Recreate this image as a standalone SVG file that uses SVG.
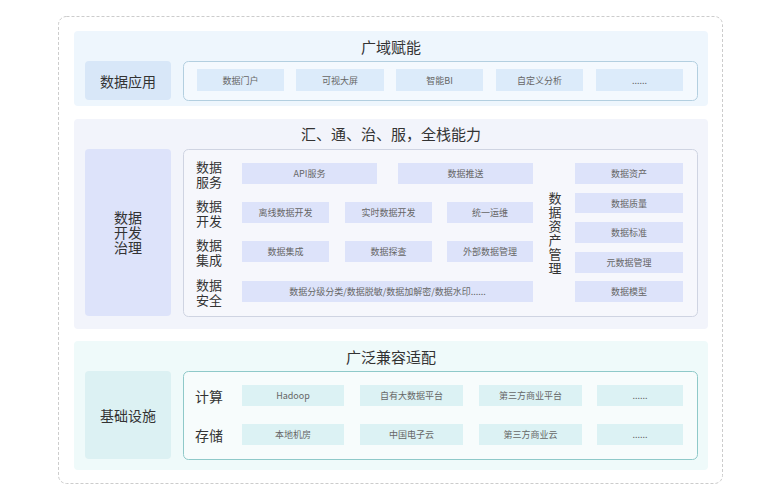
<svg xmlns="http://www.w3.org/2000/svg" width="782" height="500" viewBox="0 0 782 500">
<style>
text{font-family:"Noto Sans CJK SC","Noto Sans",sans-serif;text-anchor:middle;dominant-baseline:central}
.t{font-size:15px;fill:#333}
.h{font-size:14px;fill:#333}
.v{font-size:13px;fill:#333}
.s{font-size:9px;fill:#666}
.b1{fill:#dcebfa}.b2{fill:#dde3fa}.b3{fill:#dcf2f4}
</style>
<rect x="58.5" y="16.5" width="664" height="467" rx="8" fill="#fff" stroke="#ccc" stroke-dasharray="3,2"/>
<g id="sec1">
<rect x="74" y="31" width="634" height="75" rx="4" fill="#eef6fd"/>
<text class="t" x="391" y="46">广域赋能</text>
<rect x="85" y="61" width="86" height="39" rx="4" fill="#d8e7f8"/>
<text class="h" x="128" y="80.5">数据应用</text>
<rect x="183.5" y="61.5" width="514" height="39" rx="5" fill="#f4f9fe" stroke="#b3cfe0"/>
<rect class="b1" x="197" y="69" width="87" height="22"/><text class="s" x="240.5" y="80">数据门户</text>
<rect class="b1" x="296" y="69" width="88" height="22"/><text class="s" x="340" y="80">可视大屏</text>
<rect class="b1" x="396" y="69" width="87" height="22"/><text class="s" x="439.5" y="80">智能BI</text>
<rect class="b1" x="496" y="69" width="87" height="22"/><text class="s" x="539.5" y="80">自定义分析</text>
<rect class="b1" x="596" y="69" width="87" height="22"/><text class="s" x="639.5" y="80">......</text>
</g>
<g id="sec2">
<rect x="74" y="119" width="634" height="210" rx="4" fill="#f2f4fb"/>
<text class="t" x="391" y="133">汇、通、治、服，全栈能力</text>
<rect x="85" y="149" width="86" height="167" rx="4" fill="#dde3fa"/>
<text class="h" x="128" y="217">数据</text><text class="h" x="128" y="232">开发</text><text class="h" x="128" y="247">治理</text>
<rect x="183.5" y="149.5" width="514" height="167" rx="5" fill="#f6f7fc" stroke="#cfd4e2"/>
<text class="v" x="209" y="166">数据</text><text class="v" x="209" y="181">服务</text>
<text class="v" x="209" y="205">数据</text><text class="v" x="209" y="220">开发</text>
<text class="v" x="209" y="244">数据</text><text class="v" x="209" y="259">集成</text>
<text class="v" x="209" y="284">数据</text><text class="v" x="209" y="299">安全</text>
<rect class="b2" x="242" y="163" width="135" height="21"/><text class="s" x="309.5" y="173.5">API服务</text>
<rect class="b2" x="398" y="163" width="135" height="21"/><text class="s" x="465.5" y="173.5">数据推送</text>
<rect class="b2" x="242" y="202" width="87" height="21"/><text class="s" x="285.5" y="212.5">离线数据开发</text>
<rect class="b2" x="345" y="202" width="87" height="21"/><text class="s" x="388.5" y="212.5">实时数据开发</text>
<rect class="b2" x="447" y="202" width="86" height="21"/><text class="s" x="490" y="212.5">统一运维</text>
<rect class="b2" x="242" y="241" width="87" height="21"/><text class="s" x="285.5" y="251.5">数据集成</text>
<rect class="b2" x="345" y="241" width="87" height="21"/><text class="s" x="388.5" y="251.5">数据探查</text>
<rect class="b2" x="447" y="241" width="86" height="21"/><text class="s" x="490" y="251.5">外部数据管理</text>
<rect class="b2" x="242" y="281" width="291" height="21"/><text class="s" x="387.5" y="291.5">数据分级分类/数据脱敏/数据加解密/数据水印......</text>
<text class="v" x="555" y="234" writing-mode="vertical-rl" letter-spacing="1" style="dominant-baseline:auto">数据资产管理</text>
<rect class="b2" x="575" y="163" width="108" height="21"/><text class="s" x="629" y="173.5">数据资产</text>
<rect class="b2" x="575" y="193" width="108" height="20"/><text class="s" x="629" y="203">数据质量</text>
<rect class="b2" x="575" y="222" width="108" height="21"/><text class="s" x="629" y="232.5">数据标准</text>
<rect class="b2" x="575" y="252" width="108" height="21"/><text class="s" x="629" y="262.5">元数据管理</text>
<rect class="b2" x="575" y="281" width="108" height="21"/><text class="s" x="629" y="291.5">数据模型</text>
</g>
<g id="sec3">
<rect x="74" y="341" width="634" height="129" rx="4" fill="#effafa"/>
<text class="t" x="391" y="356">广泛兼容适配</text>
<rect x="85" y="371" width="86" height="88" rx="4" fill="#dcf1f3"/>
<text class="h" x="128" y="415">基础设施</text>
<rect x="183.5" y="371.5" width="514" height="88" rx="5" fill="#f7fcfc" stroke="#8fc9c9"/>
<text class="h" x="209" y="395.5">计算</text><text class="h" x="209" y="434.5">存储</text>
<rect class="b3" x="242" y="385" width="102" height="21"/><text class="s" x="293" y="395.5">Hadoop</text>
<rect class="b3" x="360" y="385" width="103" height="21"/><text class="s" x="411.5" y="395.5">自有大数据平台</text>
<rect class="b3" x="479" y="385" width="103" height="21"/><text class="s" x="530.5" y="395.5">第三方商业平台</text>
<rect class="b3" x="597" y="385" width="86" height="21"/><text class="s" x="640" y="395.5">......</text>
<rect class="b3" x="242" y="424" width="102" height="21"/><text class="s" x="293" y="434.5">本地机房</text>
<rect class="b3" x="360" y="424" width="103" height="21"/><text class="s" x="411.5" y="434.5">中国电子云</text>
<rect class="b3" x="479" y="424" width="103" height="21"/><text class="s" x="530.5" y="434.5">第三方商业云</text>
<rect class="b3" x="597" y="424" width="86" height="21"/><text class="s" x="640" y="434.5">......</text>
</g>
<g id="connectors"/>
</svg>
